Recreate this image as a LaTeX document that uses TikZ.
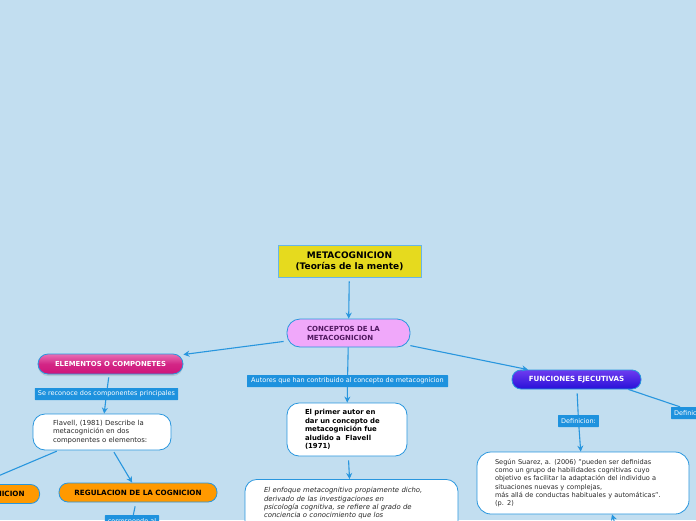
\documentclass[tikz,border=0pt]{standalone}
\usepackage{fontspec}
\setmainfont{DejaVu Sans}
\usetikzlibrary{arrows.meta,shadows}
\definecolor{bg}{RGB}{194,222,240}
\definecolor{lineblue}{RGB}{40,150,222}
\definecolor{labelblue}{RGB}{30,146,222}
\definecolor{rootyellow}{RGB}{230,218,30}
\definecolor{pinkfill}{RGB}{240,168,250}
\definecolor{purpletext}{RGB}{80,24,96}
\definecolor{magtop}{RGB}{232,110,180}
\definecolor{magbot}{RGB}{206,20,122}
\definecolor{viotop}{RGB}{110,60,240}
\definecolor{viobot}{RGB}{40,16,216}
\definecolor{orangefill}{RGB}{255,153,0}
\definecolor{darktext}{RGB}{40,40,40}
\tikzset{
  conn/.style={draw=lineblue, line width=1.1pt},
  arr/.style={conn, -{Stealth[length=6pt,width=6pt]}},
  boxbase/.style={draw=lineblue, line width=0.8pt, rounded corners=12pt},
  whitebox/.style={boxbase, fill=white, text=darktext, font=\fontsize{6.9}{8.2}\selectfont, align=left, inner ysep=3pt},
  orangebox/.style={boxbase, rounded corners=9pt, fill=orangefill, text=black, font=\bfseries\fontsize{7.2}{8}\selectfont, minimum height=19pt, inner xsep=15pt},
  lbl/.style={fill=labelblue, text=white, font=\fontsize{6.5}{7}\selectfont, inner xsep=3pt, inner ysep=0pt, minimum height=12pt, rounded corners=0.5pt},
}
\begin{document}
\begin{tikzpicture}[x=1pt,y=-1pt]
\useasboundingbox (0,0) rectangle (696,520);
\clip (0,0) rectangle (696,520);
\fill[bg] (0,0) rectangle (696,520);

% root
\node[draw=lineblue!70, line width=0.6pt, fill=rootyellow, minimum width=143pt, minimum height=32pt,
  align=center, font=\bfseries\fontsize{9}{11}\selectfont, inner sep=0pt] (root) at (349.5,261)
  {METACOGNICION\\(Teorías de la mente)};

% conceptos
\node[boxbase, rounded corners=13pt, fill=pinkfill, text=purpletext, minimum height=28pt,
  inner xsep=20pt, text width=83pt, align=left, font=\bfseries\fontsize{7}{9}\selectfont] (conc) at (348.5,333)
  {CONCEPTOS DE LA\\METACOGNICION};

% elementos
\node[boxbase, rounded corners=10pt, top color=magtop, bottom color=magbot, middle color=magbot!80!magtop,
  text=white, minimum width=145pt, minimum height=20pt, inner sep=0pt,
  font=\bfseries\fontsize{6.9}{7}\selectfont,
  drop shadow={opacity=0.25, shadow xshift=0pt, shadow yshift=-2pt}] (elem) at (110.5,364)
  {ELEMENTOS O COMPONETES};

\node[lbl] (lrec) at (106.5,394) {Se reconoce dos componentes principales};

\node[whitebox, inner xsep=20pt, text width=98pt, minimum height=36pt] (flav) at (102,432)
  {Flavell, (1981) Describe la\\metacognición en dos\\componentes o elementos:};

\node[orangebox, anchor=east] (conoc) at (40,494) {CONOCIMIENTO DE LA COGNICION};
\node[orangebox, minimum width=158pt, inner xsep=0pt] (regul) at (138,492.5) {REGULACION DE LA COGNICION};
\node[lbl, anchor=north] (lcorr) at (132,515) {corresponde al};

% autores branch
\node[lbl, minimum width=201pt] (laut) at (347.5,381) {Autores que han contribuido al concepto de metacognicion};
\node[whitebox, inner xsep=18pt, text width=84pt, minimum height=53pt, font=\bfseries\fontsize{6.9}{8.5}\selectfont, text=black] (prim) at (347,429.5)
  {El primer autor en\\dar un concepto de\\metacognición fue\\aludido a~ Flavell\\(1971)};
\node[whitebox, anchor=north, inner xsep=19pt, text width=175pt, inner ysep=8pt,
  font=\itshape\fontsize{6.9}{8.4}\selectfont] (enfo) at (351.5,479)
  {El enfoque metacognitivo propiamente dicho,\\derivado de las investigaciones en\\psicología cognitiva, se refiere al grado de\\conciencia o conocimiento que los\rule[-30pt]{0pt}{0pt}};

% funciones
\node[boxbase, rounded corners=9pt, top color=viotop, bottom color=viobot, text=white,
  minimum width=129pt, minimum height=19pt, inner sep=0pt,
  font=\bfseries\fontsize{7.1}{7}\selectfont] (func) at (576.5,379.5) {FUNCIONES EJECUTIVAS};
\node[lbl] (ldef) at (578.5,421) {Definicion:};
\node[lbl, anchor=west] (ldef2) at (671,413) {Definicion:};
\node[whitebox, inner xsep=18pt, text width=176pt, minimum height=62pt, rounded corners=14pt,
  font=\fontsize{6.6}{8.2}\selectfont] (segun) at (583,483)
  {Según Suarez, a. (2006) "pueden ser definidas\\como un grupo de habilidades cognitivas cuyo\\objetivo es facilitar la adaptación del individuo a\\situaciones nuevas y complejas,\\más allá de conductas habituales y automáticas".\\(p. 2)};
\coordinate (below) at (622,545);

% connectors
\draw[arr, shorten <=4pt] (root) -- (conc);
\draw[arr, shorten <=3pt] (conc) -- (elem);
\draw[conn, shorten <=3pt] (elem) -- (lrec);
\draw[arr] (lrec) -- (flav);
\draw[conn, shorten <=2pt] (flav) -- (conoc);
\draw[arr, shorten <=2pt] (flav) -- (regul);
\draw[conn, shorten <=4pt] (regul) -- (lcorr);
\draw[conn] (conc) -- (laut);
\draw[arr] (laut) -- (prim);
\draw[arr, shorten <=4pt] (prim) -- (enfo);
\draw[arr] (conc) -- (func);
\draw[conn, shorten <=4pt] (func) -- (ldef);
\draw[arr] (ldef) -- (segun);
\draw[conn] ([xshift=-13pt]func.south east) -- ([xshift=9pt]ldef2.north west);
\draw[arr] (below) -- ([xshift=29pt]segun.south);
\end{tikzpicture}
\end{document}
